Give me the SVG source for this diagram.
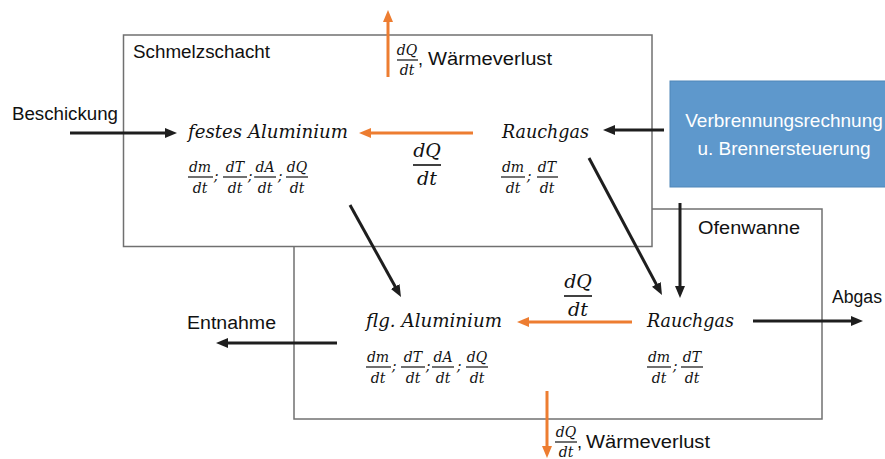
<svg xmlns="http://www.w3.org/2000/svg" width="885" height="459" viewBox="0 0 885 459">
<style>
.box{fill:#fff;stroke:#707070;stroke-width:1.5}
.blk{stroke:#1e1e1e;stroke-width:3;fill:none;marker-end:url(#ab)}
.org{stroke:#ED7D31;stroke-width:3;fill:none;marker-end:url(#ao)}
.sans{font-family:"Liberation Sans","Open Sans",sans-serif;font-size:18px;fill:#111}
.m{font-family:"DejaVu Serif","Liberation Serif",serif;font-style:italic;fill:#111}
.lab{font-size:19px}
.fs{font-size:14px;text-anchor:middle}
.fb{font-size:19px;text-anchor:middle}
.bar{stroke:#111;stroke-width:1.2}
.barb{stroke:#111;stroke-width:1.6}
.wt{font-family:"Liberation Sans","Open Sans",sans-serif;font-size:19px;fill:#fff;text-anchor:middle}
</style>
<defs>
<marker id="ab" markerUnits="userSpaceOnUse" markerWidth="12" markerHeight="10" refX="4" refY="5" orient="auto"><path d="M0,0 L12,5 L0,10 z" fill="#1e1e1e"/></marker>
<marker id="ao" markerUnits="userSpaceOnUse" markerWidth="12" markerHeight="10" refX="4" refY="5" orient="auto"><path d="M0,0 L12,5 L0,10 z" fill="#ED7D31"/></marker>
</defs>

<g id="ofenwanne">
<rect class="box" x="294" y="209" width="528" height="210"/>
<text class="sans" x="698" y="234" textLength="102" lengthAdjust="spacingAndGlyphs">Ofenwanne</text>
</g>
<g id="schmelzschacht">
<rect class="box" x="123.5" y="35" width="528.5" height="211.5"/>
<text class="sans" x="133" y="58" textLength="137" lengthAdjust="spacingAndGlyphs">Schmelzschacht</text>
</g>

<g id="verbrennung">
<rect x="670" y="81" width="230" height="106" fill="#5E98CC" stroke="#4F86B8" stroke-width="1"/>
<text class="wt" x="784" y="127">Verbrennungsrechnung</text>
<text class="wt" x="784" y="155">u. Brennersteuerung</text>
</g>

<g id="festes-aluminium">
<text class="m lab" x="188" y="138" textLength="160" lengthAdjust="spacingAndGlyphs">festes Aluminium</text>
<g class="m fs">
<text x="200" y="172">dm</text><line class="bar" x1="188" y1="177" x2="213" y2="177"/><text x="200" y="193">dt</text>
<text x="216" y="181">;</text>
<text x="235" y="172">dT</text><line class="bar" x1="223" y1="177" x2="247" y2="177"/><text x="235" y="193">dt</text>
<text x="250" y="181">;</text>
<text x="265" y="172">dA</text><line class="bar" x1="254" y1="177" x2="276" y2="177"/><text x="265" y="193">dt</text>
<text x="280" y="181">;</text>
<text x="297" y="172">dQ</text><line class="bar" x1="286" y1="177" x2="308" y2="177"/><text x="297" y="193">dt</text>
</g>
</g>

<g id="rauchgas-oben">
<text class="m lab" x="502" y="138" textLength="87" lengthAdjust="spacingAndGlyphs">Rauchgas</text>
<g class="m fs">
<text x="513" y="172">dm</text><line class="bar" x1="501" y1="177" x2="525" y2="177"/><text x="513" y="193">dt</text>
<text x="529" y="181">;</text>
<text x="547" y="172">dT</text><line class="bar" x1="537" y1="177" x2="558" y2="177"/><text x="547" y="193">dt</text>
</g>
</g>

<g id="flg-aluminium">
<text class="m lab" x="366" y="327" textLength="136" lengthAdjust="spacingAndGlyphs">flg. Aluminium</text>
<g class="m fs">
<text x="378" y="362">dm</text><line class="bar" x1="366" y1="367" x2="391" y2="367"/><text x="378" y="383">dt</text>
<text x="394" y="371">;</text>
<text x="413" y="362">dT</text><line class="bar" x1="401" y1="367" x2="425" y2="367"/><text x="413" y="383">dt</text>
<text x="428" y="371">;</text>
<text x="443" y="362">dA</text><line class="bar" x1="432" y1="367" x2="454" y2="367"/><text x="443" y="383">dt</text>
<text x="459" y="371">;</text>
<text x="477" y="362">dQ</text><line class="bar" x1="466" y1="367" x2="488" y2="367"/><text x="477" y="383">dt</text>
</g>
</g>

<g id="rauchgas-unten">
<text class="m lab" x="647" y="327" textLength="87" lengthAdjust="spacingAndGlyphs">Rauchgas</text>
<g class="m fs">
<text x="659" y="362">dm</text><line class="bar" x1="647" y1="367" x2="671" y2="367"/><text x="659" y="383">dt</text>
<text x="675" y="371">;</text>
<text x="692" y="362">dT</text><line class="bar" x1="681" y1="367" x2="703" y2="367"/><text x="692" y="383">dt</text>
</g>
</g>

<g id="waermeverlust-oben">
<g class="m fs">
<text x="407" y="55">dQ</text><line class="bar" x1="397" y1="60" x2="418" y2="60"/><text x="407" y="75">dt</text>
</g>
<text class="sans" x="418" y="65">,</text>
<text class="sans" x="428" y="65" textLength="124" lengthAdjust="spacingAndGlyphs">Wärmeverlust</text>
</g>

<g id="waermeverlust-unten">
<g class="m fs">
<text x="566" y="437">dQ</text><line class="bar" x1="555" y1="442" x2="577" y2="442"/><text x="566" y="457">dt</text>
</g>
<text class="sans" x="577" y="448">,</text>
<text class="sans" x="586" y="448" textLength="124" lengthAdjust="spacingAndGlyphs">Wärmeverlust</text>
</g>

<g id="labels">
<text class="sans" x="12" y="120" textLength="106" lengthAdjust="spacingAndGlyphs">Beschickung</text>
<text class="sans" x="187" y="329" textLength="89" lengthAdjust="spacingAndGlyphs">Entnahme</text>
<text class="sans" x="832" y="303" textLength="50" lengthAdjust="spacingAndGlyphs">Abgas</text>
</g>

<g id="dQdt-labels" class="m fb">
<text x="427" y="157">dQ</text><line class="barb" x1="413" y1="165" x2="441" y2="165"/><text x="427" y="185">dt</text>
<text x="578" y="288">dQ</text><line class="barb" x1="564" y1="296" x2="592" y2="296"/><text x="578" y="316">dt</text>
</g>

<g id="connectors">
<line class="blk" x1="70" y1="133" x2="169" y2="133"/>
<line class="blk" x1="664" y1="130" x2="611" y2="130"/>
<line class="blk" x1="680" y1="203" x2="680" y2="290"/>
<line class="blk" x1="350" y1="205" x2="397.1" y2="290"/>
<line class="blk" x1="589" y1="158" x2="658.2" y2="287.9"/>
<line class="blk" x1="753" y1="321" x2="855" y2="321"/>
<line class="blk" x1="337" y1="343" x2="224" y2="343"/>
<line class="org" x1="388" y1="77" x2="388" y2="18"/>
<line class="org" x1="473" y1="133" x2="367" y2="133"/>
<line class="org" x1="632" y1="322" x2="525" y2="322"/>
<line class="org" x1="547" y1="391" x2="547" y2="450"/>
</g>
</svg>
